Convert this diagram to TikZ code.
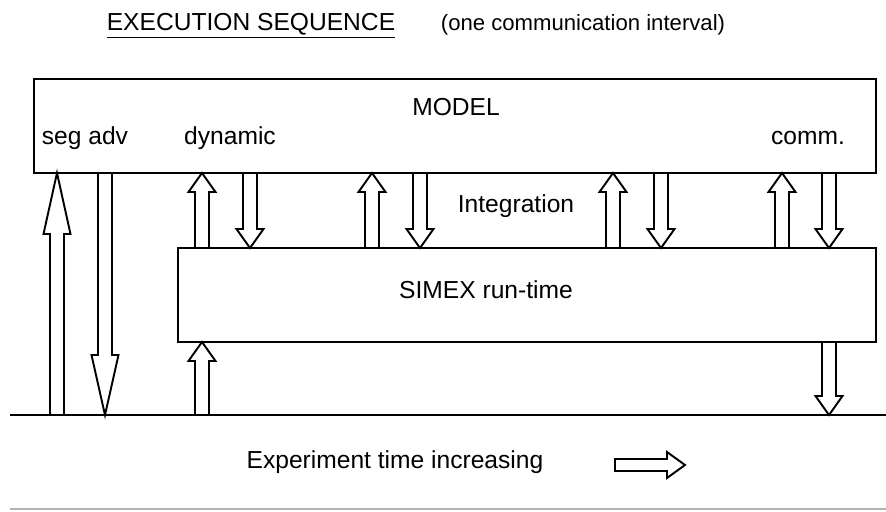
\documentclass[tikz,border=0pt]{standalone}
\usepackage{fontspec}
\setmainfont{Liberation Sans}
\usepackage{tikz}
\usetikzlibrary{positioning,calc}

% hollow block arrow: start, tip, head length, shaft half width, head half width
\newcommand{\blockarrow}[5]{%
  \coordinate (ba) at (#1);
  \coordinate (bt) at (#2);
  \coordinate (bh) at ($(bt)!#3!(ba)$);
  \draw[blkarrow] ($(ba)!#4!90:(bt)$) -- ($(bh)!#4!-90:(ba)$) -- ($(bh)!#5!-90:(ba)$)
    -- (bt) -- ($(bh)!#5!90:(ba)$) -- ($(bh)!#4!90:(ba)$) -- ($(ba)!#4!-90:(bt)$) -- cycle;
}

\begin{document}
\begin{tikzpicture}[
    x=0.02cm, y=-0.02cm,
    box/.style={rectangle, draw, line width=1.1pt, outer sep=0pt, inner sep=0pt},
    blkarrow/.style={line width=1.1pt, line join=miter},
    lbl/.style={font=\fontsize{14}{17}\selectfont, anchor=base, inner sep=0pt}
]
\useasboundingbox (0,0) rectangle (886,511);

% Title
\node[lbl] (title) at (251,30) {\underline{EXECUTION SEQUENCE}};
\node[lbl, font=\fontsize{12.6}{15}\selectfont] (interval) at (583,30) {(one communication interval)};

% Boxes
\node[box, minimum width=16.84cm, minimum height=1.88cm] (model) at (455,126) {};
\node[box, minimum width=13.96cm, minimum height=1.88cm] (simex) at (527,295) {};

\node[lbl] (modeltxt) at (456,115) {MODEL};
\node[lbl] (segadv) at (85,144) {seg adv};
\node[lbl] (dynamic) at (230,144) {dynamic};
\node[lbl] (comm) at (808,144) {comm.};
\node[lbl] (integ) at (516,212) {Integration};
\node[lbl] (simextxt) at (486,298) {SIMEX run-time};

% Time axis
\coordinate (tl) at (10,415);
\coordinate (tr) at (886,415);
\draw[line width=1.1pt] (tl) -- (tr);
\coordinate (bl) at (10,509);
\coordinate (br) at (886,509);
\draw[gray!60, line width=0.6pt] (bl) -- (br);

% Arrow columns
\foreach \n/\x in {sa/57, sd/105, ua1/202, da1/250, ua2/372, da2/420,
                   ua3/613, da3/661, ua4/782, da4/829}
  \coordinate (\n) at (\x,0);

% seg adv
\blockarrow{sa |- tl}{sa |- model.south}{1.22cm}{0.14cm}{0.27cm}
\blockarrow{sd |- model.south}{sd |- tl}{1.2cm}{0.14cm}{0.27cm}

% Integration exchanges
\foreach \ua/\da in {ua1/da1, ua2/da2, ua3/da3, ua4/da4} {
  \blockarrow{\ua |- simex.north}{\ua |- model.south}{0.38cm}{0.14cm}{0.27cm}
  \blockarrow{\da |- model.south}{\da |- simex.north}{0.38cm}{0.14cm}{0.27cm}
}

% run-time to time axis
\blockarrow{ua1 |- tl}{ua1 |- simex.south}{0.38cm}{0.14cm}{0.27cm}
\blockarrow{da4 |- simex.south}{da4 |- tl}{0.38cm}{0.14cm}{0.27cm}

% Experiment time
\node[lbl] (exptime) at (395,468) {Experiment time increasing};
\coordinate (ta) at (615,465);
\coordinate (tb) at (685,465);
\blockarrow{ta}{tb}{0.36cm}{0.12cm}{0.26cm}

\end{tikzpicture}
\end{document}
